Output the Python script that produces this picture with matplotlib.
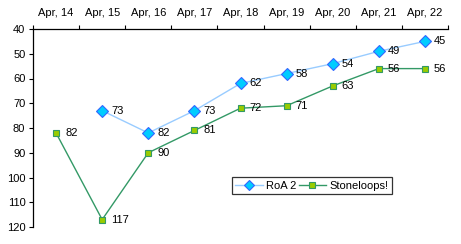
import matplotlib
matplotlib.use("Agg")
import matplotlib.pyplot as plt
import numpy as np

plt.rcParams['font.family'] = ['Liberation Sans', 'DejaVu Sans']

dates = ["Apr, 14", "Apr, 15", "Apr, 16", "Apr, 17", "Apr, 18", "Apr, 19", "Apr, 20", "Apr, 21", "Apr, 22"]
roa2 = [None, 73, 82, 73, 62, 58, 54, 49, 45]
stoneloops = [82, 117, 90, 81, 72, 71, 63, 56, 56]

fs = 8

fig = plt.figure(figsize=(4.61, 2.44), dpi=100)
ax = fig.add_axes([33/461, 1-227/244, (448-33)/461, (227-29)/244])

x = np.arange(len(dates))
rx = [i for i, v in enumerate(roa2) if v is not None]
ry = [v for v in roa2 if v is not None]

ax.plot(rx, ry, color='#99CCFF', lw=1, marker='D', ms=6.5, mfc='#00CCFF', mec='#3366FF', mew=0.8, label='RoA 2', zorder=3)
ax.plot(x, stoneloops, color='#339966', lw=1, marker='s', ms=5, mfc='#99CC00', mec='#339966', mew=0.8, label='Stoneloops!', zorder=3)

for xi, yi in zip(rx, ry):
    ax.annotate(str(yi), (xi, yi), xytext=(6.5, 0), textcoords='offset points', va='center', ha='left', fontsize=fs)
for xi, yi in zip(x, stoneloops):
    ax.annotate(str(yi), (xi, yi), xytext=(6.5, 0), textcoords='offset points', va='center', ha='left', fontsize=fs)

ax.set_xlim(-0.5, len(dates) - 0.5)
ax.set_ylim(120, 40)
ax.set_yticks(range(40, 121, 10))
ax.xaxis.tick_top()
ax.set_xticks(x)
ax.set_xticklabels(dates, fontsize=fs)
ax.set_xticks(np.arange(-0.5, len(dates)), minor=True)
ax.tick_params(axis='x', which='major', length=0, pad=8)
ax.tick_params(axis='x', which='minor', length=3, direction='out', width=0.8)
ax.tick_params(axis='y', length=3, direction='out', width=0.8, labelsize=fs, pad=2.5)

for s in ['right', 'bottom']:
    ax.spines[s].set_visible(False)
for s in ['left', 'top']:
    ax.spines[s].set_linewidth(0.9)

leg = ax.legend(loc='lower left', bbox_to_anchor=((232-33)/415, (227-194)/198, (392-232)/415, 21/198),
                ncol=2, mode='expand', fontsize=fs, frameon=True, fancybox=False,
                edgecolor='black', handlelength=2.5, handletextpad=0.3, columnspacing=0.5,
                borderpad=0.3, borderaxespad=0, markerscale=0.75)
leg.get_frame().set_linewidth(0.9)

fig.savefig('out.png', dpi=100)
